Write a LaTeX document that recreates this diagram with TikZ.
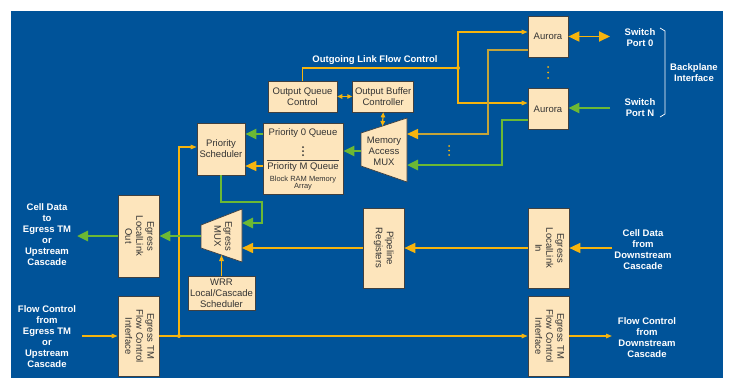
\documentclass[tikz,border=0pt]{standalone}
\usepackage{fontspec}
\setmainfont{Liberation Sans}
\usepackage{graphicx}
\usetikzlibrary{arrows.meta,positioning}
\definecolor{bgblue}{RGB}{0,83,153}
\definecolor{boxfill}{RGB}{253,229,188}
\definecolor{flowyel}{RGB}{246,180,14}
\definecolor{linkolive}{RGB}{196,164,58}
\definecolor{datagreen}{RGB}{108,184,52}
\newcommand{\vlabel}[1]{\rotatebox{-90}{\begin{tabular}{@{}c@{}}#1\end{tabular}}}

\begin{document}
\begin{tikzpicture}[x=1pt,y=-1pt,node distance=15pt]
    \tikzset{blk/.style={draw=black!75,fill=boxfill,line width=0.7pt,align=center,inner sep=0pt,
        text=black!80,font=\fontsize{9.5}{11}\selectfont},
      lbl/.style={text=white,align=center,font=\bfseries\fontsize{9.5}{11}\selectfont},
      ctrl/.style={flowyel,line width=1.3pt,-{Triangle[length=6pt,width=4.5pt]}},
      ctrlboth/.style={flowyel,line width=1.2pt,{Triangle[length=5pt,width=4.5pt]}-{Triangle[length=5pt,width=4.5pt]}},
      bigyel/.style={flowyel,line width=1.6pt,-{Triangle[length=11pt,width=10pt]}},
      biggrn/.style={datagreen,line width=2.6pt,-{Triangle[length=11pt,width=10pt]}},
      muxline/.style={draw=black!75,fill=boxfill,line width=0.7pt}}
    \useasboundingbox (0,0) rectangle (729,378);
    \fill[bgblue] (11,11) rectangle (723,378);

    \node[blk,minimum width=40pt,minimum height=41pt] (aur0) at (548,36.5) {Aurora};
    \node[blk,minimum width=40pt,minimum height=41pt] (aurN) [below=31pt of aur0] {Aurora};
    \node[blk,minimum width=69pt,minimum height=31pt] (oqc) at (302.5,96.5) {Output Queue\\Control};
    \node[blk,minimum width=61pt,minimum height=31pt] (obc) [right=of oqc] {Output Buffer\\Controller};
    \node[blk,minimum width=80pt,minimum height=71pt] (pq) at (303,158.5) {};
    \node[blk,minimum width=48pt,minimum height=52pt] (ps) at (221,149) {Priority\\Scheduler};
    \node[blk,minimum width=41pt,minimum height=82pt] (llout) at (138.5,236) {\vlabel{Egress\\LocalLink\\Out}};
    \node[blk,minimum width=41pt,minimum height=80pt] (fcl) at (138.5,336) {\vlabel{Egress TM\\Flow Control\\Interface}};
    \node[blk,minimum width=67pt,minimum height=34pt] (wrr) at (221.5,293) {WRR\\Local/Cascade\\Scheduler};
    \node[blk,minimum width=41pt,minimum height=80pt] (pipe) at (383.5,248) {\vlabel{Pipeline\\Registers}};
    \node[blk,minimum width=41pt,minimum height=80pt] (llin) at (548.5,248) {\vlabel{Egress\\LocalLink\\In}};
    \node[blk,minimum width=41pt,minimum height=80pt] (fcr) at (548.5,336) {\vlabel{Egress TM\\Flow Control\\Interface}};

    \node[text=black!80,font=\fontsize{9.5}{11}\selectfont] (pq0) at (303,133) {Priority 0 Queue};
    \node[text=black!80,font=\fontsize{9.5}{11}\selectfont] (pqm) at (303,167.5) {Priority M Queue};
    \node[text=black!80,align=center,font=\fontsize{7.5}{7}\selectfont] (bram) at (303,183.5) {Block RAM Memory\\Array};
    \draw[black!75,line width=0.8pt] (267,160) -- (339,160);
    \foreach \y in {147,151,155} \fill[black!80] (303,\y) circle (1pt);

    \draw[muxline] (361,133) -- (407,118) -- (407,182) -- (361,166) -- cycle;
    \node[text=black!80,align=center,font=\fontsize{9.5}{11}\selectfont] (mam) at (384,151) {Memory\\Access\\MUX};
    \draw[muxline] (201,225) -- (242,209) -- (242,262) -- (201,248) -- cycle;
    \node[text=black!80,font=\fontsize{9.5}{11}\selectfont] (emx) at (222,236) {\vlabel{Egress\\MUX}};
    \coordinate (mam-in1) at (407,134);
    \coordinate (mam-in2) at (407,165);
    \coordinate (mam-out) at (361,151);
    \coordinate (mam-top) at (382.5,126);
    \coordinate (emx-in1) at (242,223);
    \coordinate (emx-in2) at (242,248);
    \coordinate (emx-out) at (201,236);
    \coordinate (emx-sel) at (221.5,255);

    \coordinate (fcj) at (458,68);
    \coordinate (fcj2) at (179,336);
    \coordinate (sp0-end) at (610,36.5);
    \coordinate (spN-end) at (610,108);
    \coordinate (cdto-end) at (77,236);
    \coordinate (cdfrom-end) at (612,248);
    \coordinate (fcin-end) at (82,336);
    \coordinate (fcout-end) at (612,336);

    \draw[flowyel,line width=1.3pt] (oqc.north) |- (fcj);
    \draw[ctrl] (fcj) |- (aur0.west |- 0,32);
    \draw[ctrl] (fcj) |- (aurN.west |- 0,103);
    \fill[flowyel] (fcj) circle (2pt);
    \draw[linkolive,line width=1.5pt,-{Triangle[length=11pt,width=10pt,color=flowyel]}] (aur0.west |- 0,50) -| (488,134) -- (mam-in1);
    \draw[biggrn] (aurN.west |- 0,120) -| (502,165) -- (mam-in2);
    \draw[biggrn] (spN-end) -- (aurN.east |- spN-end);
    \draw[flowyel,line width=1.8pt,{Triangle[length=11pt,width=10pt]}-{Triangle[length=11pt,width=10pt]}] (aur0.east) -- (sp0-end);
    \foreach \y in {67,72.5,78} \fill[flowyel] (548,\y) circle (1pt);
    \foreach \y in {146,150.5,155} \fill[flowyel] (449,\y) circle (1pt);

    \draw[ctrlboth] (oqc.east) -- (obc.west);
    \draw[ctrlboth] (obc.south) -- (mam-top);
    \draw[biggrn] (mam-out) -- (mam-out -| pq.east);
    \draw[biggrn] (pq.west |- 0,134) -- (ps.east |- 0,134);
    \draw[bigyel] (pq.west |- 0,166) -- (ps.east |- 0,166);
    \draw[ctrl] (fcj2) |- (ps.west |- 0,147);
    \draw[biggrn] (ps.south) |- (262,202) |- (emx-in1);
    \draw[bigyel] (pipe.west) -- (emx-in2);
    \draw[bigyel] (llin.west) -- (pipe.east);
    \draw[bigyel] (cdfrom-end) -- (llin.east);
    \draw[biggrn] (emx-out) -- (llout.east);
    \draw[biggrn] (llout.west) -- (cdto-end);
    \draw[ctrl] (wrr.north) -- (emx-sel);
    \draw[ctrl] (fcin-end) -- (fcl.west);
    \draw[ctrl] (fcl.east) -- (fcr.west);
    \draw[ctrl] (fcr.east) -- (fcout-end);
    \fill[flowyel] (fcj2) circle (2pt);

    \node[lbl] (olfc) at (375,60) {Outgoing Link Flow Control};
    \node[lbl] (sp0) at (640,37.5) {Switch\\Port 0};
    \node[lbl] (spN) at (640,108) {Switch\\Port N};
    \node[lbl] (bpi) at (694,73) {Backplane\\Interface};
    \draw[white,line width=0.7pt] (660,28) -- (665,31) -- (665,114) -- (660,117);
    \node[lbl] (cdto) at (47,235) {Cell Data\\to\\Egress TM\\or\\Upstream\\Cascade};
    \node[lbl] (fcfrom) at (47,336.5) {Flow Control\\from\\Egress TM\\or\\Upstream\\Cascade};
    \node[lbl] (cdfrom) at (643,250) {Cell Data\\from\\Downstream\\Cascade};
    \node[lbl] (fcds) at (647,338) {Flow Control\\from\\Downstream\\Cascade};
\end{tikzpicture}
\end{document}
